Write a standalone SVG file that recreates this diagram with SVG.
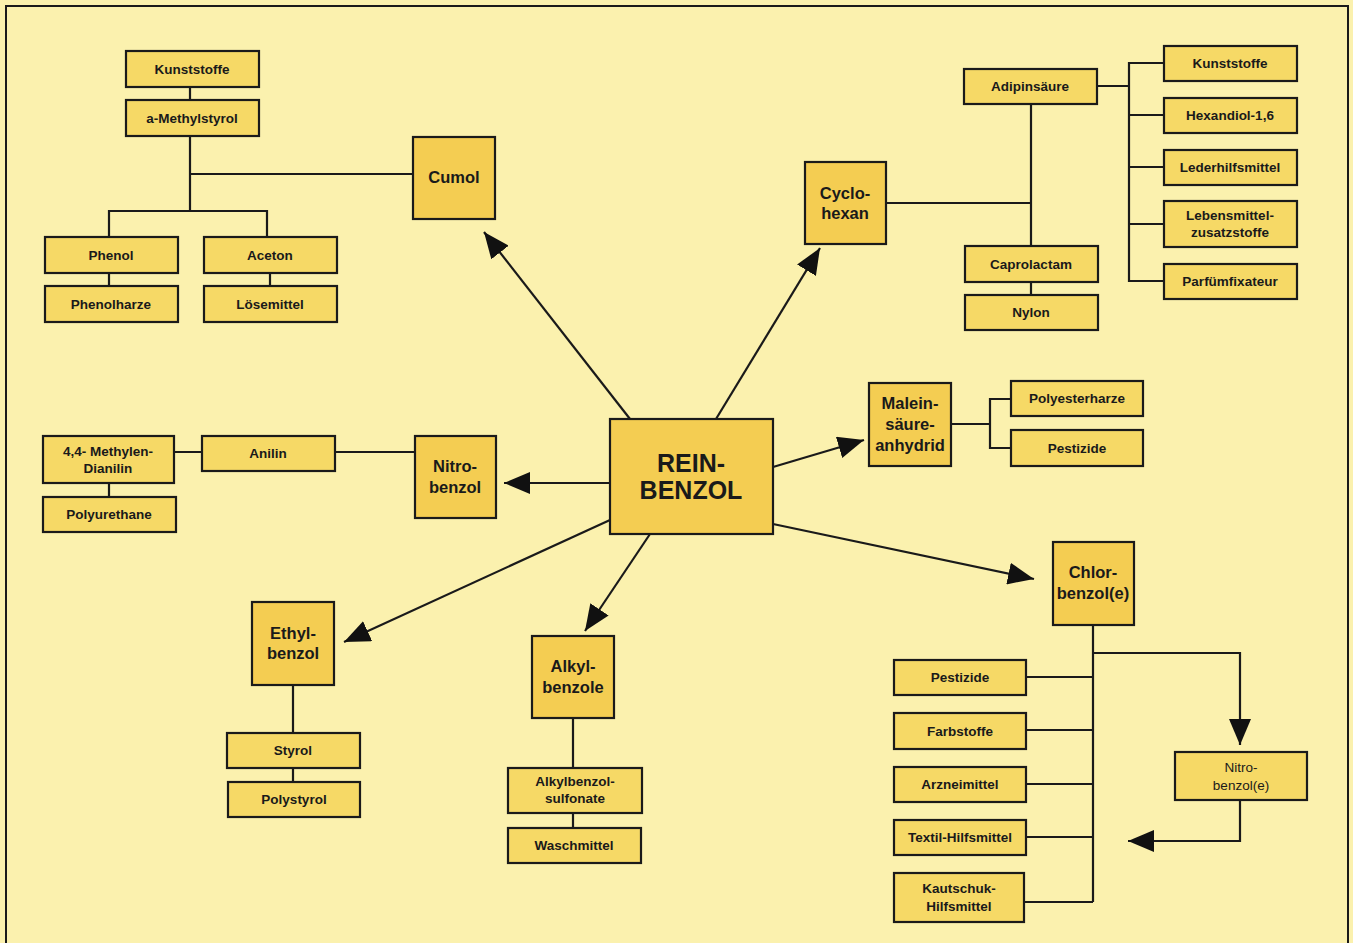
<svg xmlns="http://www.w3.org/2000/svg" width="1353" height="943" viewBox="0 0 1353 943">
  <style>
    .bg { fill: #fbf1ae; }
    .frame { fill: none; stroke: #1a1a1a; stroke-width: 2; }
    .sm { fill: #f6d966; stroke: #1a1a1a; stroke-width: 2.2; }
    .big { fill: #f4cd52; stroke: #1a1a1a; stroke-width: 2.2; }
    .ln { fill: none; stroke: #1a1a1a; stroke-width: 2.2; }
    .arr { fill: none; stroke: #1a1a1a; stroke-width: 2.2; marker-end: url(#head); }
    text { font-family: "Liberation Sans", Arial, sans-serif; fill: #1a1a1a; text-anchor: middle; }
    .ts { font-size: 13.5px; font-weight: bold; }
    .tn { font-size: 13.5px; }
    .tb { font-size: 16.5px; font-weight: bold; }
    .tm { font-size: 25px; font-weight: bold; }
  </style>
  <defs>
    <marker id="head" viewBox="0 0 26 22" refX="26" refY="11" markerWidth="26" markerHeight="22" markerUnits="userSpaceOnUse" orient="auto">
      <path d="M0,0 L26,11 L0,22 Z" fill="#111"/>
    </marker>
  </defs>

  <rect class="bg" x="0" y="0" width="1353" height="943"/>
  <path class="frame" d="M6,943 V6 H1348 V943"/>

  <!-- connectors -->
  <g id="connectors">
    <!-- arrows leaving the central box -->
    <line class="arr" x1="630" y1="419" x2="484" y2="232"/>
    <line class="arr" x1="716" y1="419" x2="820" y2="248"/>
    <line class="arr" x1="773" y1="467" x2="864" y2="440"/>
    <line class="arr" x1="773" y1="524" x2="1034" y2="579"/>
    <line class="arr" x1="650" y1="534" x2="585" y2="631"/>
    <line class="arr" x1="610" y1="520" x2="344" y2="642"/>
    <line class="arr" x1="610" y1="483" x2="504" y2="483"/>

    <!-- Cumol tree -->
    <path class="ln" d="M190,87 V100 M190,136 V211 M190,174 H413 M109,237 V211 H267 V237 M109,273 V286 M270,273 V286"/>
    <!-- Cyclohexan tree -->
    <path class="ln" d="M886,203 H1031 M1031,104 V246 M1031,282 V295"/>
    <path class="ln" d="M1097,86 H1129 M1164,63 H1129 V281 H1164 M1129,115 H1164 M1129,167 H1164 M1129,224 H1164"/>
    <!-- Maleinsäureanhydrid tree -->
    <path class="ln" d="M951,424 H990 M1011,399 H990 V448 H1011"/>
    <!-- Nitrobenzol tree -->
    <path class="ln" d="M415,452 H335 M202,452 H174 M109,483 V497"/>
    <!-- Ethylbenzol / Alkylbenzole trees -->
    <path class="ln" d="M293,685 V733 M293,768 V782"/>
    <path class="ln" d="M573,718 V768 M573,813 V828"/>
    <!-- Chlorbenzol tree -->
    <path class="ln" d="M1093,625 V902 M1026,677 H1093 M1026,730 H1093 M1026,784 H1093 M1026,837 H1093 M1024,902 H1093"/>
    <path class="arr" d="M1093,653 H1240 V745"/>
    <path class="arr" d="M1240,800 V841 H1128"/>
  </g>

  <!-- nodes -->
  <g id="reinbenzol"><rect class="big" x="610" y="419" width="163" height="115"/><text class="tm" x="691" y="472">REIN-</text><text class="tm" x="691" y="499">BENZOL</text></g>

  <g id="cumol"><rect class="big" x="413" y="137" width="82" height="82"/><text class="tb" x="454" y="183">Cumol</text></g>
  <g id="kunststoffe1"><rect class="sm" x="126" y="51" width="133" height="36"/><text class="ts" x="192" y="74">Kunststoffe</text></g>
  <g id="methylstyrol"><rect class="sm" x="126" y="100" width="133" height="36"/><text class="ts" x="192" y="123">a-Methylstyrol</text></g>
  <g id="phenol"><rect class="sm" x="45" y="237" width="133" height="36"/><text class="ts" x="111" y="260">Phenol</text></g>
  <g id="aceton"><rect class="sm" x="204" y="237" width="133" height="36"/><text class="ts" x="270" y="260">Aceton</text></g>
  <g id="phenolharze"><rect class="sm" x="45" y="286" width="133" height="36"/><text class="ts" x="111" y="309">Phenolharze</text></g>
  <g id="loesemittel"><rect class="sm" x="204" y="286" width="133" height="36"/><text class="ts" x="270" y="309">Lösemittel</text></g>

  <g id="cyclohexan"><rect class="big" x="805" y="162" width="81" height="82"/><text class="tb" x="845" y="199">Cyclo-</text><text class="tb" x="845" y="219">hexan</text></g>
  <g id="adipinsaeure"><rect class="sm" x="964" y="69" width="133" height="35"/><text class="ts" x="1030" y="91">Adipinsäure</text></g>
  <g id="caprolactam"><rect class="sm" x="965" y="246" width="133" height="36"/><text class="ts" x="1031" y="269">Caprolactam</text></g>
  <g id="nylon"><rect class="sm" x="965" y="295" width="133" height="35"/><text class="ts" x="1031" y="317">Nylon</text></g>
  <g id="kunststoffe2"><rect class="sm" x="1164" y="46" width="133" height="35"/><text class="ts" x="1230" y="68">Kunststoffe</text></g>
  <g id="hexandiol"><rect class="sm" x="1164" y="98" width="133" height="35"/><text class="ts" x="1230" y="120">Hexandiol-1,6</text></g>
  <g id="lederhilfsmittel"><rect class="sm" x="1164" y="150" width="133" height="35"/><text class="ts" x="1230" y="172">Lederhilfsmittel</text></g>
  <g id="lebensmittel"><rect class="sm" x="1164" y="201" width="133" height="46"/><text class="ts" x="1230" y="220">Lebensmittel-</text><text class="ts" x="1230" y="237">zusatzstoffe</text></g>
  <g id="parfuemfixateur"><rect class="sm" x="1164" y="264" width="133" height="35"/><text class="ts" x="1230" y="286">Parfümfixateur</text></g>

  <g id="maleinsaeure"><rect class="big" x="869" y="383" width="82" height="83"/><text class="tb" x="910" y="409">Malein-</text><text class="tb" x="910" y="430">säure-</text><text class="tb" x="910" y="451">anhydrid</text></g>
  <g id="polyesterharze"><rect class="sm" x="1011" y="381" width="132" height="35"/><text class="ts" x="1077" y="403">Polyesterharze</text></g>
  <g id="pestizide1"><rect class="sm" x="1011" y="430" width="132" height="36"/><text class="ts" x="1077" y="453">Pestizide</text></g>

  <g id="nitrobenzol"><rect class="big" x="415" y="436" width="81" height="82"/><text class="tb" x="455" y="472">Nitro-</text><text class="tb" x="455" y="493">benzol</text></g>
  <g id="anilin"><rect class="sm" x="202" y="436" width="133" height="35"/><text class="ts" x="268" y="458">Anilin</text></g>
  <g id="methylendianilin"><rect class="sm" x="43" y="436" width="131" height="47"/><text class="ts" x="108" y="456">4,4- Methylen-</text><text class="ts" x="108" y="473">Dianilin</text></g>
  <g id="polyurethane"><rect class="sm" x="43" y="497" width="133" height="35"/><text class="ts" x="109" y="519">Polyurethane</text></g>

  <g id="ethylbenzol"><rect class="big" x="252" y="602" width="82" height="83"/><text class="tb" x="293" y="639">Ethyl-</text><text class="tb" x="293" y="659">benzol</text></g>
  <g id="styrol"><rect class="sm" x="227" y="733" width="133" height="35"/><text class="ts" x="293" y="755">Styrol</text></g>
  <g id="polystyrol"><rect class="sm" x="228" y="782" width="132" height="35"/><text class="ts" x="294" y="804">Polystyrol</text></g>

  <g id="alkylbenzole"><rect class="big" x="532" y="636" width="82" height="82"/><text class="tb" x="573" y="672">Alkyl-</text><text class="tb" x="573" y="693">benzole</text></g>
  <g id="alkylbenzolsulfonate"><rect class="sm" x="508" y="768" width="134" height="45"/><text class="ts" x="575" y="786">Alkylbenzol-</text><text class="ts" x="575" y="803">sulfonate</text></g>
  <g id="waschmittel"><rect class="sm" x="508" y="828" width="133" height="35"/><text class="ts" x="574" y="850">Waschmittel</text></g>

  <g id="chlorbenzol"><rect class="big" x="1053" y="542" width="81" height="83"/><text class="tb" x="1093" y="578">Chlor-</text><text class="tb" x="1093" y="599">benzol(e)</text></g>
  <g id="nitrobenzole"><rect class="sm" x="1175" y="752" width="132" height="48"/><text class="tn" x="1241" y="772">Nitro-</text><text class="tn" x="1241" y="790">benzol(e)</text></g>
  <g id="pestizide2"><rect class="sm" x="894" y="660" width="132" height="35"/><text class="ts" x="960" y="682">Pestizide</text></g>
  <g id="farbstoffe"><rect class="sm" x="894" y="713" width="132" height="36"/><text class="ts" x="960" y="736">Farbstoffe</text></g>
  <g id="arzneimittel"><rect class="sm" x="894" y="767" width="132" height="35"/><text class="ts" x="960" y="789">Arzneimittel</text></g>
  <g id="textilhilfsmittel"><rect class="sm" x="894" y="820" width="132" height="35"/><text class="ts" x="960" y="842">Textil-Hilfsmittel</text></g>
  <g id="kautschukhilfsmittel"><rect class="sm" x="894" y="873" width="130" height="49"/><text class="ts" x="959" y="893">Kautschuk-</text><text class="ts" x="959" y="911">Hilfsmittel</text></g>
</svg>
